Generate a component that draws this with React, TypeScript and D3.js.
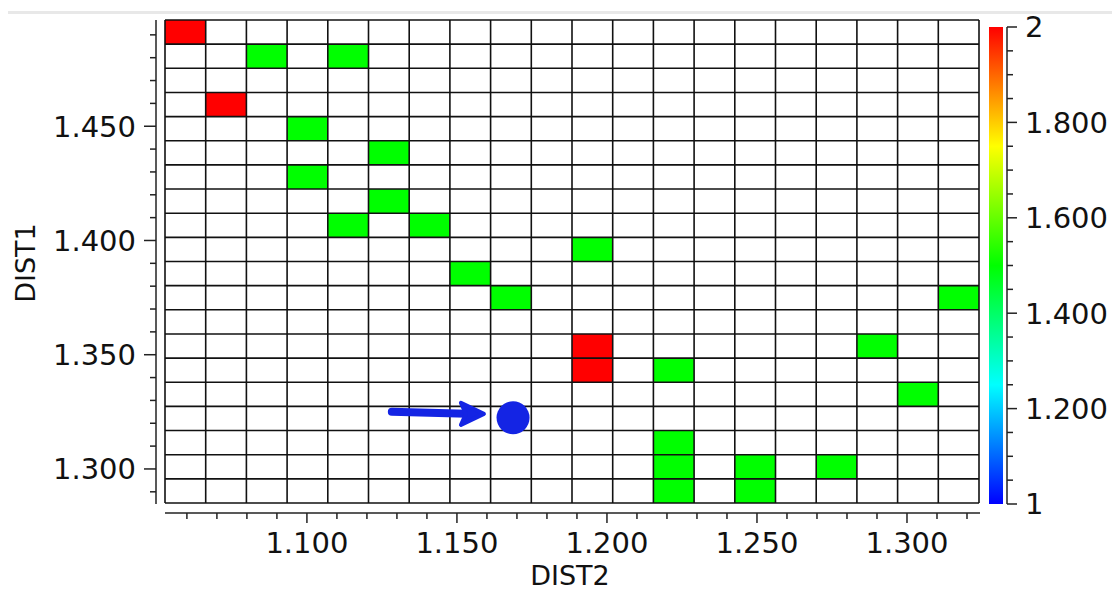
import React, { useEffect, useRef } from "react";
import * as d3 from "d3";

// grid extent (data units) and bins
const dist2Range = [1.0527, 1.324];
const dist1Range = [1.2851, 1.4965];
const nCols = 20;
const nRows = 20;

// filled cells: column index (left->right), row index (top->bottom), value
const cellCol = [0, 2, 4, 1, 3, 5, 3, 5, 4, 6, 10, 7, 8, 19, 10, 17, 10, 12, 18, 12, 12, 14, 16, 12, 14];
const cellRow = [0, 1, 1, 3, 4, 5, 6, 7, 8, 8, 9, 10, 11, 11, 13, 13, 14, 14, 15, 17, 18, 18, 18, 19, 19];
const cellValue = [2, 1.5, 1.5, 2, 1.5, 1.5, 1.5, 1.5, 1.5, 1.5, 1.5, 1.5, 1.5, 1.5, 2, 1.5, 2, 1.5, 1.5, 1.5, 1.5, 1.5, 1.5, 1.5, 1.5];

const xMajorTicks = [1.1, 1.15, 1.2, 1.25, 1.3];
const yMajorTicks = [1.3, 1.35, 1.4, 1.45];
const cbTicks = [1, 1.2, 1.4, 1.6, 1.8, 2];
const cbTickLabels = ["1", "1.200", "1.400", "1.600", "1.800", "2"];

// annotation: arrow and marker point
const arrowFrom = [1.1283, 1.325];
const arrowTo = [1.159, 1.3241];
const markerPoint = [1.1687, 1.3224];

const FONT = "DejaVu Sans, Verdana, sans-serif";

const App = () => {
  const svgRef = useRef(null);

  useEffect(() => {
    const svg = d3.select(svgRef.current);
    svg.selectAll("*").remove();

    const x = d3.scaleLinear().domain(dist2Range).range([165, 979]);
    const y = d3.scaleLinear().domain(dist1Range).range([503, 20]);
    const color = (v) => d3.hsl(d3.scaleLinear().domain([1, 2]).range([240, 0])(v), 1, 0.5).toString();

    const colStep = (dist2Range[1] - dist2Range[0]) / nCols;
    const rowStep = (dist1Range[1] - dist1Range[0]) / nRows;

    // thin grey band at top of page
    svg.append("rect").attr("x", 8).attr("y", 11).attr("width", 1104).attr("height", 3).attr("fill", "#e8e8e8");

    // cells
    svg
      .append("g")
      .selectAll("rect")
      .data(cellCol.map((c, i) => ({ c, r: cellRow[i], v: cellValue[i] })))
      .join("rect")
      .attr("x", (d) => x(dist2Range[0] + d.c * colStep))
      .attr("y", (d) => y(dist1Range[1] - d.r * rowStep))
      .attr("width", (d) => x(dist2Range[0] + (d.c + 1) * colStep) - x(dist2Range[0] + d.c * colStep))
      .attr("height", (d) => y(dist1Range[1] - (d.r + 1) * rowStep) - y(dist1Range[1] - d.r * rowStep))
      .attr("fill", (d) => color(d.v));

    // grid lines
    const grid = svg.append("g").attr("stroke", "#111").attr("stroke-width", 1.6);
    d3.range(nCols + 1).forEach((i) => {
      const px = x(dist2Range[0] + i * colStep);
      grid.append("line").attr("x1", px).attr("x2", px).attr("y1", y(dist1Range[1])).attr("y2", y(dist1Range[0]));
    });
    d3.range(nRows + 1).forEach((i) => {
      const py = y(dist1Range[1] - i * rowStep);
      grid.append("line").attr("x1", x(dist2Range[0])).attr("x2", x(dist2Range[1])).attr("y1", py).attr("y2", py);
    });

    const fmt = d3.format(".3f");

    // x axis
    const xAxisY = 513;
    const gx = svg.append("g").attr("stroke", "#222").attr("stroke-width", 1.5);
    gx.append("line").attr("x1", x(dist2Range[0])).attr("x2", x(dist2Range[1]) + 1).attr("y1", xAxisY).attr("y2", xAxisY);
    x.ticks(30)
      .filter((t) => t > dist2Range[0] && t < dist2Range[1])
      .forEach((t) => {
        const major = xMajorTicks.some((m) => Math.abs(m - t) < 1e-6);
        gx.append("line").attr("x1", x(t)).attr("x2", x(t)).attr("y1", xAxisY).attr("y2", xAxisY + (major ? 10 : 6));
      });
    svg
      .append("g")
      .selectAll("text")
      .data(xMajorTicks)
      .join("text")
      .attr("x", (d) => x(d))
      .attr("y", 553)
      .attr("text-anchor", "middle")
      .attr("font-family", FONT)
      .attr("font-size", 29)
      .attr("fill", "#111")
      .text((d) => fmt(d));

    // y axis
    const yAxisX = 156;
    const gy = svg.append("g").attr("stroke", "#222").attr("stroke-width", 1.5);
    gy.append("line").attr("x1", yAxisX).attr("x2", yAxisX).attr("y1", y(dist1Range[1])).attr("y2", y(dist1Range[0]) + 1);
    y.ticks(25)
      .filter((t) => t > dist1Range[0] && t < dist1Range[1])
      .forEach((t) => {
        const major = yMajorTicks.some((m) => Math.abs(m - t) < 1e-6);
        gy.append("line").attr("x1", yAxisX - (major ? 12 : 6)).attr("x2", yAxisX).attr("y1", y(t)).attr("y2", y(t));
      });
    svg
      .append("g")
      .selectAll("text")
      .data(yMajorTicks)
      .join("text")
      .attr("x", 136)
      .attr("y", (d) => y(d))
      .attr("dy", "0.36em")
      .attr("text-anchor", "end")
      .attr("font-family", FONT)
      .attr("font-size", 29)
      .attr("fill", "#111")
      .text((d) => fmt(d));

    // axis titles
    svg
      .append("text")
      .attr("x", 570)
      .attr("y", 585)
      .attr("text-anchor", "middle")
      .attr("font-family", FONT)
      .attr("font-size", 27)
      .attr("fill", "#111")
      .text("DIST2");
    svg
      .append("text")
      .attr("transform", `translate(35,263) rotate(-90)`)
      .attr("text-anchor", "middle")
      .attr("font-family", FONT)
      .attr("font-size", 27)
      .attr("fill", "#111")
      .text("DIST1");

    // colorbar
    const cb = d3.scaleLinear().domain([1, 2]).range([504, 27]);
    const grad = svg
      .append("defs")
      .append("linearGradient")
      .attr("id", "cbgrad")
      .attr("x1", 0)
      .attr("y1", 1)
      .attr("x2", 0)
      .attr("y2", 0);
    d3.range(0, 1.0001, 0.05).forEach((f) => {
      grad.append("stop").attr("offset", f).attr("stop-color", color(1 + f));
    });
    svg.append("rect").attr("x", 989).attr("y", cb(2)).attr("width", 14).attr("height", cb(1) - cb(2)).attr("fill", "url(#cbgrad)");
    const gc = svg.append("g").attr("stroke", "#222").attr("stroke-width", 1.5);
    gc.append("line").attr("x1", 1007).attr("x2", 1007).attr("y1", cb(2)).attr("y2", cb(1));
    cb.ticks(20).forEach((t) => {
      const major = cbTicks.some((m) => Math.abs(m - t) < 1e-6);
      gc.append("line").attr("x1", 1007).attr("x2", 1007 + (major ? 10 : 6)).attr("y1", cb(t)).attr("y2", cb(t));
    });
    svg
      .append("g")
      .selectAll("text")
      .data(cbTicks)
      .join("text")
      .attr("x", 1025)
      .attr("y", (d) => cb(d))
      .attr("dy", "0.36em")
      .attr("font-family", FONT)
      .attr("font-size", 29)
      .attr("fill", "#111")
      .text((d, i) => cbTickLabels[i]);

    // annotation arrow and point
    const blue = "#1424e4";
    const ax0 = x(arrowFrom[0]);
    const ay0 = y(arrowFrom[1]);
    const ax1 = x(arrowTo[0]);
    const ay1 = y(arrowTo[1]);
    svg
      .append("line")
      .attr("x1", ax0)
      .attr("y1", ay0)
      .attr("x2", ax1 - 8)
      .attr("y2", ay1)
      .attr("stroke", blue)
      .attr("stroke-width", 8)
      .attr("stroke-linecap", "round");
    svg
      .append("path")
      .attr("d", `M${ax1},${ay1} L${ax1 - 23},${ay1 - 11} L${ax1 - 18},${ay1} L${ax1 - 23},${ay1 + 11} Z`)
      .attr("fill", blue)
      .attr("stroke", blue)
      .attr("stroke-width", 4)
      .attr("stroke-linejoin", "round");
    svg
      .append("circle")
      .attr("cx", x(markerPoint[0]))
      .attr("cy", y(markerPoint[1]))
      .attr("r", 16.5)
      .attr("fill", blue);
  }, []);

  return (
    <svg
      ref={svgRef}
      width={1112}
      height={592}
      style={{ position: "absolute", left: 0, top: 0, background: "#fff" }}
    ></svg>
  );
};

export default App;
